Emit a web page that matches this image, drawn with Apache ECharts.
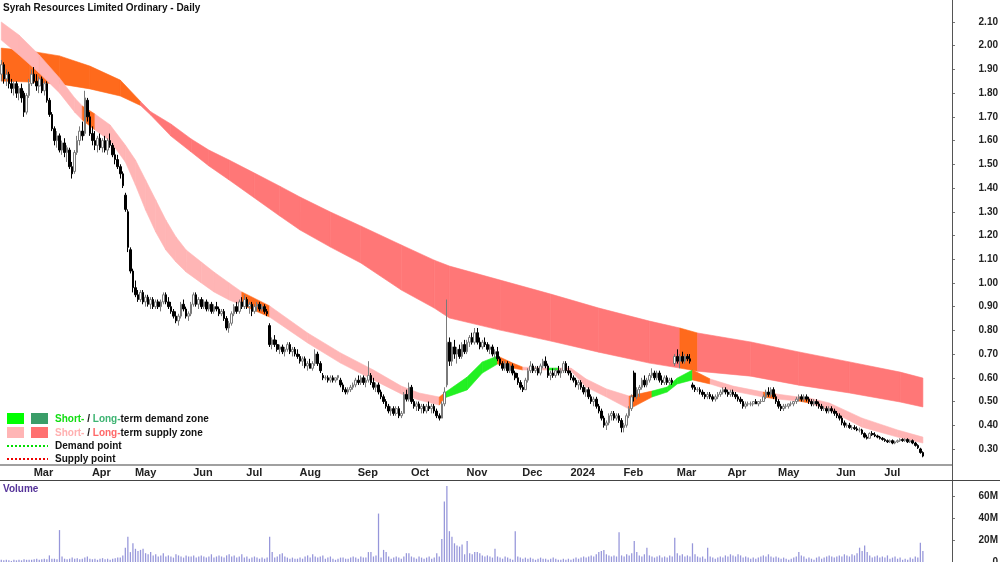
<!DOCTYPE html>
<html>
<head>
<meta charset="utf-8">
<title>Syrah Resources Limited Ordinary - Daily</title>
<script src="https://cdn.jsdelivr.net/npm/echarts@6/dist/echarts.min.js"></script>
<style>
  html, body { margin: 0; padding: 0; background: #fff; }
  #chart { width: 1000px; height: 562px; }
</style>
</head>
<body>
<div id="chart"></div>
<script>
// ASX holidays skipped when building the session list
const holidays = ['2023-04-07', '2023-04-10', '2023-04-25', '2023-06-12', '2023-12-25', '2023-12-26',
  '2024-01-01', '2024-01-26', '2024-03-29', '2024-04-01', '2024-04-25', '2024-06-10']

// daily prices in cents, one value per session from 13 Feb 2023
const openC = [
  188,192,186,188,184,182,184,180,182,180,172,179,
  184,188,185,183,186,181,184,177,171,165,160,162,156,159,155,156,149,147,155,160,164,163,177,
  170,163,160,158,161,157,160,156,160,158,154,152,149,146,137,130,114,
  105,98,95,93,96,92,94,91,93,90,92,90,92,95,92,90,88,86,84,86,91,89,86,
  87,91,95,91,93,90,92,89,91,88,90,89,87,88,85,81,83,87,90,88,92,
  90,93,90,91,88,90,91,89,90,88,82,74,76,74,72,73,71,72,74,71,72,
  70,69,67,68,65,66,64,66,70,66,61,60,60,59,60,59,60,59,57,55,54,55,56,
  57,59,58,60,58,59,61,58,56,57,54,52,50,48,46,47,45,47,44,45,53,
  51,56,50,48,49,47,48,46,48,47,48,46,44,43,49,57,75,67,73,70,72,69,
  74,71,75,77,75,79,75,73,75,74,72,73,70,71,68,66,64,66,63,65,62,60,
  58,56,55,59,63,65,63,64,62,65,67,65,61,62,61,63,62,63,66,
  63,62,60,59,57,58,56,54,55,52,50,51,48,46,43,40,41,44,45,43,44,
  42,39,40,44,47,62,52,55,56,59,57,59,61,62,60,62,59,58,60,58,59,
  66,69,67,69,67,69,68,57,56,55,55,54,53,52,53,52,51,52,53,54,
  55,54,53,54,53,52,51,50,48,49,49,49,50,49,50,50,52,54,53,55,
  52,50,48,47,48,48,49,49,50,51,52,51,52,51,50,49,50,49,48,47,47,46,47,
  46,45,44,43,41,40,40,39,39,38.5,38,38,36.5,35,34.5,36.5,36,35.5,35,
  34.5,34,33.5,33,33.5,32.5,33,33.5,34,33.5,34,33,33.5,32.5,31.5,30,28.5
]
const highC = [
  194,193,190,189,186,185,185,183,184,181,180,186,
  190,191,188,187,187,185,185,178,172,166,164,163,160,161,158,157,151,156,162,166,168,181,178,
  172,166,164,162,163,161,162,161,163,159,157,154,150,147,138,131,115,
  106,101,97,97,97,95,95,94,94,93,93,93,96,96,94,92,89,88,87,92,93,90,88,
  92,96,96,94,94,93,93,92,92,91,92,90,89,89,86,84,88,91,92,93,94,
  95,94,92,92,91,92,92,91,91,89,83,77,78,76,74,74,73,75,75,73,73,
  72,70,69,69,67,68,67,72,71,67,62,61,61,61,61,60,61,60,58,56,56,57,58,
  60,61,61,61,60,67,62,60,58,58,55,53,51,49,48,48,48,48,46,54,55,
  58,57,51,50,50,49,49,49,50,49,49,47,45,50,56,93,77,75,76,73,74,75,
  76,76,78,79,81,81,77,76,77,75,74,74,72,73,69,67,67,67,66,66,63,62,
  59,57,60,64,67,66,65,65,66,68,69,66,63,64,64,65,64,67,67,
  65,63,61,60,59,59,57,56,56,53,52,52,49,47,44,42,45,46,46,45,45,
  43,41,45,48,53,63,56,57,60,61,60,62,64,63,63,63,61,61,61,60,60,
  70,72,70,71,70,70,70,58,57,56,56,55,54,54,54,53,53,54,55,56,
  56,55,55,55,54,53,52,51,50,50,50,50,51,50,51,53,55,56,56,56,
  53,51,49,49,49,49,50,50,52,53,53,53,53,52,51,51,51,50,49,48,48,48,48,
  47,46,45,44,42,41,41,40,40,39.5,39,38.5,37,36,37,37.5,37,36,35.5,
  35,34.5,34,34,34,33.5,34,34.5,34.5,34.5,34.5,34,34,33,32,30.5,29
]
const lowC = [
  185,184,183,182,180,179,178,177,176,170,171,178,
  183,184,181,180,180,179,176,170,164,158,157,155,154,153,151,148,144,146,154,158,160,162,168,
  162,158,156,155,156,155,155,154,157,153,150,148,144,140,130,113,104,
  96,94,92,92,91,90,90,89,89,89,89,88,91,91,89,87,85,83,82,85,88,85,84,
  86,90,90,89,89,89,88,88,87,87,88,86,86,84,80,79,82,86,87,87,89,
  89,89,87,86,87,88,88,88,87,86,73,72,73,71,70,70,69,71,70,69,69,
  68,66,65,64,63,64,63,65,65,62,59,59,58,58,58,58,59,56,54,53,53,54,55,
  56,57,57,57,56,58,57,55,54,53,51,49,47,45,44,44,44,43,43,45,50,
  50,49,47,46,46,45,45,45,46,45,45,43,42,43,48,56,65,65,68,66,68,68,
  70,70,73,74,74,74,72,72,73,71,70,69,68,67,65,63,63,62,62,61,59,57,
  55,54,55,58,62,62,62,61,61,64,64,60,59,60,60,61,60,62,62,
  61,59,58,56,55,55,53,52,51,49,48,47,45,42,39,38,40,42,42,42,41,
  37,37,39,43,46,50,51,52,55,56,56,58,60,59,59,58,57,57,57,57,57,
  65,66,64,66,66,67,66,55,54,54,53,52,51,51,51,50,50,51,52,53,
  53,52,52,52,51,50,49,47,47,48,48,48,49,48,49,50,51,52,52,51,
  49,47,46,46,47,47,48,48,49,50,50,50,50,49,48,48,48,47,46,46,45,45,45,
  44,43,42,40,39,39,38.5,38,38,37.5,37,36,34.5,34,34.5,35.5,35,34.5,34,
  33.5,33,32.5,32.5,32,32,32.5,33,33,33,32.5,32.5,32,31,30,28,26.5
]
const closeC = [
  192,186,188,184,182,184,180,182,178,172,179,184,
  188,185,183,186,181,184,177,171,165,160,162,156,159,155,157,149,146,155,160,164,162,178,170,
  163,160,158,161,157,160,156,160,158,154,152,149,146,141,131,115,105,
  98,95,93,96,92,94,91,93,90,92,90,92,95,92,90,88,86,84,86,91,89,86,87,
  91,95,91,93,90,92,89,91,88,90,89,87,88,85,81,83,87,90,88,92,90,
  93,90,91,88,90,91,89,90,88,87,74,76,74,72,73,71,72,74,71,72,70,
  69,67,68,65,66,64,66,70,66,63,60,60,59,60,59,60,61,57,55,54,55,56,57,
  59,58,60,58,59,61,58,56,57,54,52,50,48,46,47,45,47,44,45,53,51,
  56,50,48,49,47,48,46,48,47,48,46,44,43,49,54,75,67,73,70,72,69,74,
  71,75,77,75,79,75,73,75,74,72,73,70,71,68,66,64,66,63,65,62,60,58,
  56,55,59,63,65,63,64,62,65,67,65,61,62,61,63,62,63,66,63,
  62,60,59,57,58,56,54,55,52,50,51,48,46,43,40,41,44,45,43,44,42,
  39,40,44,47,52,52,55,56,59,57,59,61,62,60,62,59,58,60,58,59,58,
  69,67,69,67,69,68,67,56,55,55,54,53,52,53,52,51,52,53,54,55,
  54,53,54,53,52,51,50,48,49,49,49,50,49,50,50,52,54,53,55,52,
  50,48,47,48,48,49,49,50,51,52,51,52,51,50,49,50,49,48,47,47,46,47,46,
  45,44,43,41,40,40,39,39,38.5,38,38,36.5,35,34.5,36.5,36,35.5,35,34.5,
  34,33.5,33,33.5,32.5,33,33.5,34,33.5,34,33,33.5,32.5,31.5,30.5,28.5,27
]
// volume in millions of shares
const volumeM = [
  2,1.5,2,1.5,1,2,1.5,2,1.5,2.5,2,2,
  2,2.5,3,2,2.5,3,2.5,6,3,3,2.5,29,5,3,2.5,3,4,3,3.5,2.5,3,4,5,
  3,2.5,3,2,3,3.5,2.5,3,2,3,3.5,4,4,6,13,23,9,
  17,12,10,11,12,8,7,9,6,7,5,6,8,5,6,5,4,7,6,5,4,6,5,
  5,6,4,5,6,5,4,5,7,4,5,6,5,4,6,7,5,6,4,5,7,
  4,5,3,4,5,4,3,4,3,4,23,9,4,5,7,8,5,4,3,4,3,
  3,4,3,5,6,4,7,5,4,5,6,3,4,5,3,2,3,4,4,3,3,4,5,
  4,3,5,4,4,9,9,5,6,44,4,11,9,5,3,4,5,4,3,5,8,
  8,5,4,3,5,4,3,4,5,3,4,8,5,21,55,69,28,23,17,15,14,16,
  7,19,8,7,9,9,8,6,5,6,5,4,12,5,4,3,5,4,3,2,28,5,
  4,3,4,3,4,3,2,3,4,3,3,2,3,4,3,2,2,3,2,
  3,2,3,4,3,4,5,4,5,6,5,7,9,10,11,7,6,5,6,5,27,
  6,5,7,6,8,19,9,6,5,7,13,6,5,4,5,6,4,5,4,6,5,
  22,8,6,7,5,6,5,17,7,5,4,5,3,13,5,4,3,4,5,4,
  6,5,7,6,5,7,6,4,5,4,3,4,3,4,5,6,5,7,5,4,
  5,4,3,4,3,2,3,4,5,9,6,5,3,4,3,2,4,5,3,4,5,6,5,
  4,5,6,5,7,6,5,7,6,8,13,10,15,9,6,4,5,6,4,
  5,4,6,3,4,5,3,4,2,3,2,4,3,5,4,17.5,10
]

// long-term band (session number, upper, lower) and its state per segment
// S = supply, T = price trading inside the zone
const longBar = [0,11,23,35,47,55,59,67,75,82,90,100,110,118,130,142,158,171,177,197,217,236,256,268,275,296,315,335,355,364]
const longUp = [1.99,1.978,1.957,1.914,1.855,1.765,1.722,1.67,1.607,1.56,1.518,1.463,1.408,1.362,1.299,1.24,1.16,1.096,1.071,1.012,0.953,0.894,0.839,0.81,0.789,0.751,0.709,0.667,0.624,0.599]
const longLo = [1.851,1.847,1.839,1.818,1.788,1.748,1.708,1.619,1.552,1.493,1.434,1.358,1.282,1.223,1.151,1.084,0.97,0.894,0.852,0.801,0.755,0.708,0.662,0.641,0.628,0.607,0.569,0.536,0.498,0.477]
const longZone = ['T','T','T','T','T','S','S','S','S','S','S','S','S','S','S','S','S','S','S','S','S','S','S','T','S','S','S','S','S']

// short-term band, D = demand
const shortBar = [0,7,15,23,29,32,37,43,49,53,57,61,65,69,73,79,84,90,95,106,121,134,147,158,165,173,175,184,190,196,202,206,216,220,225,231,239,248,257,263,267,273,280,289,301,306,315,319,327,340,354,364]
const shortUp = [2.10,2.045,1.961,1.864,1.78,1.746,1.712,1.666,1.581,1.518,1.434,1.35,1.265,1.194,1.139,1.088,1.046,1.0,0.962,0.903,0.789,0.705,0.633,0.565,0.536,0.519,0.536,0.603,0.667,0.692,0.662,0.645,0.641,0.641,0.641,0.595,0.553,0.523,0.544,0.561,0.599,0.633,0.595,0.565,0.54,0.532,0.519,0.515,0.494,0.43,0.38,0.35]
const shortLo = [2.024,1.961,1.885,1.801,1.72,1.687,1.645,1.598,1.51,1.413,1.307,1.215,1.139,1.088,1.046,1.0,0.962,0.928,0.907,0.856,0.747,0.662,0.591,0.532,0.506,0.485,0.515,0.549,0.62,0.658,0.641,0.633,0.633,0.633,0.629,0.561,0.519,0.468,0.519,0.54,0.574,0.591,0.574,0.544,0.519,0.511,0.502,0.494,0.464,0.392,0.35,0.325]
const shortZone = ['S','S','S','S','S','T','S','S','S','S','S','S','S','S','S','S','S','S','T','S','S','S','S','S','S','T','D','D','D','T','T','S','D','S','S','S','S','T','D','D','D','T','S','S','T','S','T','S','S','S','S']

const priceTicks = [0.3,0.4,0.5,0.6,0.7,0.8,0.9,1.0,1.1,1.2,1.3,1.4,1.5,1.6,1.7,1.8,1.9,2.0,2.1]
const volumeTicks = [0,20,40,60]
const monthNames = ['Jan','Feb','Mar','Apr','May','Jun','Jul','Aug','Sep','Oct','Nov','Dec']

function tradingDays(start, end, skip) {
  const out = []
  const d = new Date(start + 'T00:00:00Z')
  const stop = new Date(end + 'T00:00:00Z')
  while (d <= stop) {
    const wd = d.getUTCDay()
    const s = d.toISOString().slice(0, 10)
    if (wd !== 0 && wd !== 6 && skip.indexOf(s) < 0) out.push(s)
    d.setUTCDate(d.getUTCDate() + 1)
  }
  return out
}

// sessions run a little past the last bar so the right edge stays empty
const categories = tradingDays('2023-02-13', '2024-08-07', holidays)

const isMonthStart = (i) => i > 0 && i < closeC.length && categories[i].slice(5, 7) !== categories[i - 1].slice(5, 7)

const candles = closeC.map((c, i) => [openC[i] / 100, c / 100, lowC[i] / 100, highC[i] / 100])

function bandData(bars, up, lo) {
  const out = []
  for (let k = 0; k < bars.length - 1; k++) {
    out.push([bars[k], up[k], lo[k], bars[k + 1], up[k + 1], lo[k + 1]])
  }
  return out
}

function bandSeries(bars, up, lo, zones, palette) {
  return {
    type: 'custom',
    xAxisIndex: 0,
    yAxisIndex: 0,
    silent: true,
    encode: { x: [0, 3], y: [1, 2, 4, 5] },
    data: bandData(bars, up, lo),
    renderItem: (params, api) => {
      const c = palette[zones[params.dataIndex]]
      return {
        type: 'polygon',
        shape: {
          points: [
            api.coord([api.value(0), api.value(1)]),
            api.coord([api.value(3), api.value(4)]),
            api.coord([api.value(3), api.value(5)]),
            api.coord([api.value(0), api.value(2)])
          ]
        },
        style: { fill: c, stroke: c, lineWidth: 0.6 }
      }
    }
  }
}

const FONT = 'Liberation Sans, Arial, sans-serif'
const txt = (size, weight, color) => ({ fontSize: size, fontWeight: weight, fill: color, fontFamily: FONT })

const chart = echarts.init(document.getElementById('chart'))

chart.setOption({
  animation: false,
  backgroundColor: '#fff',
  grid: [
    { left: 0, right: 48, top: 0, height: 465, containLabel: false, outerBoundsMode: 'none' },
    { left: 0, right: 48, top: 481, height: 81, containLabel: false, outerBoundsMode: 'none' }
  ],
  xAxis: [{
    type: 'category',
    gridIndex: 0,
    data: categories,
    boundaryGap: true,
    axisLine: { lineStyle: { color: '#a0a0a0', width: 2 } },
    axisTick: { interval: (i) => isMonthStart(i), length: 3, lineStyle: { color: '#888' } },
    axisLabel: {
      interval: (i) => isMonthStart(i),
      formatter: (v) => v.slice(5, 7) === '01' ? v.slice(0, 4) : monthNames[+v.slice(5, 7) - 1],
      align: 'left',
      margin: 2,
      padding: [0, 0, 0, 2],
      fontSize: 11,
      fontWeight: 'bold',
      color: '#222',
      fontFamily: FONT
    },
    splitLine: { show: false }
  }, {
    type: 'category',
    gridIndex: 1,
    data: categories,
    boundaryGap: true,
    axisLine: { show: false },
    axisTick: { show: false },
    axisLabel: { show: false },
    splitLine: { show: false }
  }],
  yAxis: [{
    type: 'value',
    gridIndex: 0,
    position: 'right',
    min: 0.2324,
    max: 2.1927,
    axisLine: { show: false },
    splitLine: { show: false },
    axisTick: { show: true, customValues: priceTicks, length: 3, lineStyle: { color: '#777' } },
    axisLabel: {
      customValues: priceTicks,
      formatter: (v) => v.toFixed(2),
      align: 'right',
      margin: 46,
      fontSize: 10,
      fontWeight: 'bold',
      color: '#222',
      fontFamily: FONT
    }
  }, {
    type: 'value',
    gridIndex: 1,
    position: 'right',
    min: 0,
    max: 73.6,
    axisLine: { show: false },
    splitLine: { show: false },
    axisTick: { show: true, customValues: volumeTicks, length: 3, lineStyle: { color: '#777' } },
    axisLabel: {
      customValues: volumeTicks,
      formatter: (v) => v === 0 ? '0' : v + 'M',
      align: 'right',
      margin: 46,
      fontSize: 10,
      fontWeight: 'bold',
      color: '#222',
      fontFamily: FONT
    }
  }],
  series: [
    bandSeries(longBar, longUp, longLo, longZone, { S: '#ff7777', T: '#ff6a1c', D: '#3cb371' }),
    bandSeries(shortBar, shortUp, shortLo, shortZone, { S: '#ffb5b5', T: '#ff6a1c', D: '#22f022' }),
    {
      type: 'candlestick',
      xAxisIndex: 0,
      yAxisIndex: 0,
      data: candles,
      barWidth: '80%',
      itemStyle: {
        color: '#ffffff',
        color0: '#000000',
        borderColor: '#7a7a7a',
        borderColor0: '#000000',
        borderWidth: 1
      },
      z: 5
    },
    {
      type: 'bar',
      xAxisIndex: 1,
      yAxisIndex: 1,
      data: volumeM,
      barWidth: '50%',
      itemStyle: { color: '#9696da' }
    }
  ],
  graphic: [
    { type: 'line', shape: { x1: 952.5, y1: 0, x2: 952.5, y2: 562 }, style: { stroke: '#555', lineWidth: 1 }, z: 50 },
    { type: 'line', shape: { x1: 0, y1: 480.5, x2: 1000, y2: 480.5 }, style: { stroke: '#444', lineWidth: 1 }, z: 50 },
    { type: 'text', x: 3, y: 3, style: Object.assign({ text: 'Syrah Resources Limited Ordinary - Daily' }, txt(10, 'bold', '#111')), z: 50 },
    { type: 'text', x: 3, y: 484, style: Object.assign({ text: 'Volume' }, txt(10, 'bold', '#553399')), z: 50 },
    // legend
    { type: 'rect', shape: { x: 7, y: 413, width: 17, height: 11 }, style: { fill: '#00ff00' }, z: 50 },
    { type: 'rect', shape: { x: 31, y: 413, width: 17, height: 11 }, style: { fill: '#3a9d68' }, z: 50 },
    { type: 'rect', shape: { x: 7, y: 427, width: 17, height: 11 }, style: { fill: '#ffb5b5' }, z: 50 },
    { type: 'rect', shape: { x: 31, y: 427, width: 17, height: 11 }, style: { fill: '#ff7070' }, z: 50 },
    { type: 'line', shape: { x1: 7, y1: 446, x2: 48, y2: 446 }, style: { stroke: '#00dd00', lineWidth: 2, lineDash: [2, 2] }, z: 50 },
    { type: 'line', shape: { x1: 7, y1: 459, x2: 48, y2: 459 }, style: { stroke: '#ee0000', lineWidth: 2, lineDash: [2, 2] }, z: 50 },
    {
      type: 'text', x: 55, y: 419, z: 50,
      style: {
        text: '{a|Short-}{k| / }{b|Long-}{k|term demand zone}',
        verticalAlign: 'middle',
        rich: { a: txt(10, 'bold', '#11dd11'), b: txt(10, 'bold', '#3cb371'), k: txt(10, 'bold', '#111') }
      }
    },
    {
      type: 'text', x: 55, y: 433, z: 50,
      style: {
        text: '{a|Short-}{k| / }{b|Long-}{k|term supply zone}',
        verticalAlign: 'middle',
        rich: { a: txt(10, 'bold', '#ffb0b0'), b: txt(10, 'bold', '#ff6868'), k: txt(10, 'bold', '#111') }
      }
    },
    { type: 'text', x: 55, y: 446, z: 50, style: Object.assign({ text: 'Demand point', verticalAlign: 'middle' }, txt(10, 'bold', '#111')) },
    { type: 'text', x: 55, y: 459, z: 50, style: Object.assign({ text: 'Supply point', verticalAlign: 'middle' }, txt(10, 'bold', '#111')) }
  ]
})
</script>
</body>
</html>
